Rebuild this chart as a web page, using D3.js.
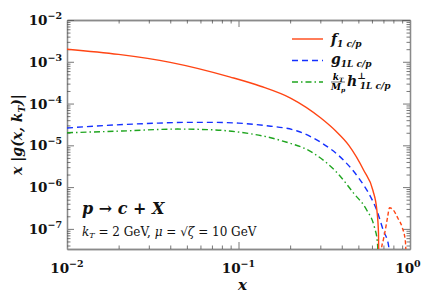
<!DOCTYPE html>
<html>
<head>
<meta charset="utf-8">
<script src="https://cdn.jsdelivr.net/npm/d3@7"></script>
<style>
  body { margin: 0; background: #fff; }
  text { font-family: "DejaVu Serif", "Liberation Serif", serif; }
</style>
</head>
<body>
<svg id="chart" width="423" height="301"></svg>
<script>
// data (x, |value|)
var xF = [0.01, 0.02, 0.04, 0.0897, 0.1345, 0.201, 0.302, 0.369, 0.44, 0.538, 0.608, 0.641, 0.655, 0.664];
var f1 = [2.0e-3, 1.5e-3, 9.7e-4, 4.3e-4, 2.6e-4, 1.35e-4, 4.5e-5, 2.2e-5, 1.0e-5, 2.5e-6, 8.3e-7, 2.8e-7, 8e-8, 1e-9];
var xFneg = [0.668, 0.68, 0.7, 0.72, 0.74, 0.76, 0.8, 0.85, 0.9, 0.94, 0.963];
var f1neg = [1e-9, 3e-8, 5.6e-8, 1.0e-7, 1.9e-7, 3.2e-7, 2.8e-7, 1.8e-7, 1.1e-7, 5e-8, 1e-9];
var xG = [0.01, 0.017, 0.034, 0.05, 0.07, 0.1, 0.14, 0.22, 0.3, 0.41, 0.5, 0.59, 0.64, 0.7, 0.75, 0.775];
var g1L = [2.6e-5, 3.0e-5, 3.4e-5, 3.55e-5, 3.55e-5, 3.4e-5, 3.0e-5, 2.2e-5, 1.2e-5, 4.4e-6, 1.7e-6, 5.8e-7, 2.8e-7, 9e-8, 4e-8, 1e-9];
var xH = [0.01, 0.021, 0.044, 0.071, 0.098, 0.177, 0.275, 0.38, 0.47, 0.56, 0.62, 0.645, 0.665];
var h1L = [2.0e-5, 2.2e-5, 2.45e-5, 2.35e-5, 2.1e-5, 1.3e-5, 6.4e-6, 2.1e-6, 7.1e-7, 2.8e-7, 1.1e-7, 5e-8, 1e-9];

var xMajor = [0.01, 0.1, 1], xExp = ["−2", "−1", "0"];
var yMajor = [1e-2, 1e-3, 1e-4, 1e-5, 1e-6, 1e-7], yExp = ["−2", "−3", "−4", "−5", "−6", "−7"];

var M = {l: 67, r: 13, t: 20, b: 52},
    W = 423 - M.l - M.r, H = 301 - M.t - M.b;
var svg = d3.select("#chart");
var g = svg.append("g").attr("transform", "translate(" + M.l + "," + M.t + ")");

var x = d3.scaleLog().domain([0.01, 1]).range([0, W]);
var y = d3.scaleLog().domain([3.3e-8, 1e-2]).range([H, 0]);

function minors(lo, hi) {
  var out = [];
  for (var e = lo; e < hi; e++) for (var m = 2; m < 10; m++) out.push(m * Math.pow(10, e));
  return out;
}
var xMinor = minors(-2, 0);
var yMinor = minors(-8, -2).filter(function (v) { return v > 3.3e-8; });

var axCol = "#8a8a8a";
function drawAxis(ax, tr) {
  var s = g.append("g").attr("transform", tr).call(ax);
  s.select(".domain").attr("stroke", axCol).attr("stroke-width", 1.3);
  s.selectAll(".tick line").attr("stroke", "#555").attr("stroke-width", 0.8);
  s.selectAll(".tick text").remove();
}
drawAxis(d3.axisBottom(x).tickValues(xMajor).tickSizeInner(-7).tickSizeOuter(0), "translate(0," + H + ")");
drawAxis(d3.axisBottom(x).tickValues(xMinor).tickSizeInner(-3.5).tickSizeOuter(0), "translate(0," + H + ")");
drawAxis(d3.axisTop(x).tickValues(xMajor).tickSizeInner(-7).tickSizeOuter(0), "translate(0,0)");
drawAxis(d3.axisTop(x).tickValues(xMinor).tickSizeInner(-3.5).tickSizeOuter(0), "translate(0,0)");
drawAxis(d3.axisLeft(y).tickValues(yMajor).tickSizeInner(-7).tickSizeOuter(0), "translate(0,0)");
drawAxis(d3.axisLeft(y).tickValues(yMinor).tickSizeInner(-3.5).tickSizeOuter(0), "translate(0,0)");
drawAxis(d3.axisRight(y).tickValues(yMajor).tickSizeInner(-7).tickSizeOuter(0), "translate(" + W + ",0)");
drawAxis(d3.axisRight(y).tickValues(yMinor).tickSizeInner(-3.5).tickSizeOuter(0), "translate(" + W + ",0)");

// tick labels 10^n
function powLabel(sel, exp) {
  sel.append("tspan").text("10");
  sel.append("tspan").attr("font-size", 9.5).attr("dy", -6).text(exp);
}
xMajor.forEach(function (v, i) {
  var t = g.append("text").attr("x", Math.min(x(v), W - 2)).attr("y", H + 24)
    .attr("text-anchor", "middle").attr("font-size", 13.5).attr("font-weight", "bold").attr("fill", "#111");
  powLabel(t, xExp[i]);
});
yMajor.forEach(function (v, i) {
  var t = g.append("text").attr("x", -5).attr("y", y(v) + 5)
    .attr("text-anchor", "end").attr("font-size", 13.5).attr("font-weight", "bold").attr("fill", "#111");
  powLabel(t, yExp[i]);
});

// curves
g.append("clipPath").attr("id", "clip").append("rect").attr("width", W).attr("height", H);
var line = d3.line().x(function (d) { return x(d[0]); }).y(function (d) { return y(d[1]); })
  .curve(d3.curveMonotoneX);
function curve(xs, ys, col, dash) {
  g.append("path").attr("clip-path", "url(#clip)")
    .datum(d3.zip(xs, ys)).attr("d", line)
    .attr("fill", "none").attr("stroke", col).attr("stroke-width", 1.4)
    .attr("stroke-dasharray", dash);
}
var cRed = "#ff4514", cBlue = "#1430ff", cGreen = "#1fa51f";
curve(xH, h1L, cGreen, "6,3,1.5,3");
curve(xG, g1L, cBlue, "6,4");
curve(xFneg, f1neg, cRed, "4,2.5");
curve(xF, f1, cRed, null);

// legend
var leg = [
  {c: cRed, d: null},
  {c: cBlue, d: "6,4"},
  {c: cGreen, d: "6,3,1.5,3"}
];
leg.forEach(function (o, i) {
  var yy = 19 + i * 21.5;
  g.append("line").attr("x1", 225).attr("x2", 256).attr("y1", yy).attr("y2", yy)
    .attr("stroke", o.c).attr("stroke-width", 1.4).attr("stroke-dasharray", o.d);
});
function mathText(xp, yp, size) {
  return g.append("text").attr("x", xp).attr("y", yp).attr("font-size", size)
    .attr("font-style", "italic").attr("font-weight", "bold").attr("fill", "#111");
}
var t1 = mathText(264, 24, 14);
t1.append("tspan").text("f");
t1.append("tspan").attr("font-size", 9).attr("dy", 3).text("1 c/p");
var t2 = mathText(264, 44, 14);
t2.append("tspan").text("g");
t2.append("tspan").attr("font-size", 9).attr("dy", 3).text("1L c/p");
// k_T / M_p fraction
var fr = g.append("g").attr("transform", "translate(264," + (19 + 43) + ")");
fr.append("text").attr("x", 7).attr("y", -2).attr("text-anchor", "middle").attr("font-size", 9)
  .attr("font-style", "italic").attr("font-weight", "bold").text("k").append("tspan").attr("font-size", 6).attr("dy", 1.5).text("T");
fr.append("line").attr("x1", 0).attr("x2", 14).attr("y1", 0).attr("y2", 0).attr("stroke", "#111").attr("stroke-width", 0.6);
fr.append("text").attr("x", 7).attr("y", 8).attr("text-anchor", "middle").attr("font-size", 9)
  .attr("font-style", "italic").attr("font-weight", "bold").text("M").append("tspan").attr("font-size", 6).attr("dy", 1.5).text("p");
var t3 = mathText(280, 66, 14);
t3.append("tspan").text("h");
t3.append("tspan").attr("font-size", 9).attr("dy", -7).text("⊥");
t3.append("tspan").attr("font-size", 9).attr("dx", -6).attr("dy", 10).text("1L c/p");

// annotations
var a1 = mathText(15, 194, 16);
a1.text("p → c + X");
var a2 = g.append("text").attr("x", 15).attr("y", 216).attr("font-size", 12).attr("fill", "#111");
a2.append("tspan").attr("font-style", "italic").text("k");
a2.append("tspan").attr("font-style", "italic").attr("font-size", 8).attr("dy", 2).text("T");
a2.append("tspan").attr("dy", -2).text(" = 2 GeV, ");
a2.append("tspan").attr("font-style", "italic").text("μ");
a2.append("tspan").text(" = √");
a2.append("tspan").attr("font-style", "italic").text("ζ");
a2.append("tspan").text(" = 10 GeV");

// axis titles
mathText(W / 2 + 4, H + 41, 15).attr("text-anchor", "middle").text("x");
var yl = svg.append("text").attr("transform", "translate(22," + (M.t + H / 2) + ") rotate(-90)")
  .attr("text-anchor", "middle").attr("font-size", 14).attr("font-style", "italic")
  .attr("font-weight", "bold").attr("fill", "#111");
yl.append("tspan").text("x |g(x, k");
yl.append("tspan").attr("font-size", 9).attr("dy", 3).text("T");
yl.append("tspan").attr("dy", -3).text(")|");
</script>
</body>
</html>
